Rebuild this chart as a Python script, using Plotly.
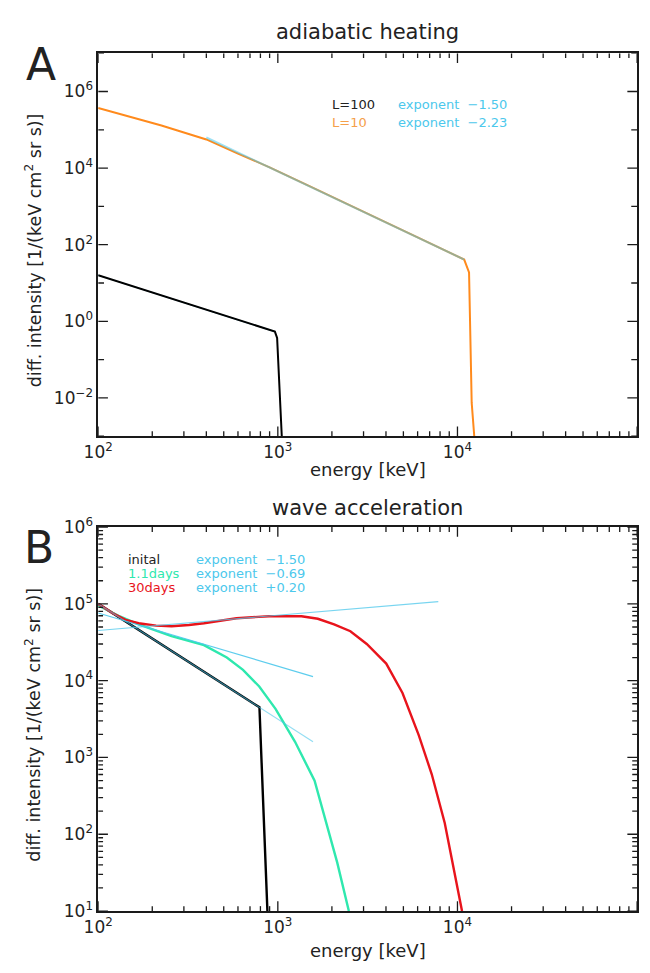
import plotly.graph_objects as go

# page body has a default 8px margin: the figure is sized to the visible area
OFF = 8
W, H = 650 - 2 * OFF, 973 - 2 * OFF

# ---------------- panel A : adiabatic heating ----------------
a_L100_E = [100, 963, 991, 1035, 1052]
a_L100_I = [16, 0.54, 0.37, 0.0074, 0.001]

a_L10_E = [100, 150, 225, 300, 400, 600, 900, 1500, 2500, 4000, 6000, 10900, 11600, 12000, 12400]
a_L10_I = [3.7e5, 2.2e5, 1.3e5, 8.5e4, 5.6e4, 2.4e4, 1.05e4, 3.4e3, 1.08e3, 3.7e2, 1.55e2, 41, 19, 0.0074, 0.001]

a_fit100_E = [100, 963]
a_fit100_I = [16, 0.54]
a_fit10_E = [400, 10900]
a_fit10_I = [6.3e4, 41]

a_labels = ["L=100", "L=10"]
a_exps = ["exponent  \u22121.50", "exponent  \u22122.23"]

# ---------------- panel B : wave acceleration ----------------
b_init_E = [100, 790, 875]
b_init_I = [1.0e5, 4.5e3, 10]

b_d11_E = [100, 130, 168, 256, 388, 520, 640, 788, 971, 1247, 1602, 1854, 2140, 2485]
b_d11_I = [9.5e4, 7.0e4, 5.4e4, 3.8e4, 2.9e4, 2.0e4, 1.38e4, 8.4e3, 4.3e3, 1.6e3, 497, 140, 43, 10]

b_d30_E = [100, 120, 142, 168, 210, 256, 320, 388, 589, 893, 1355, 1670, 2057, 2535, 3125,
           4012, 4943, 6086, 7192, 8494, 10600]
b_d30_I = [1.0e5, 7.6e4, 6.2e4, 5.6e4, 5.2e4, 5.1e4, 5.3e4, 5.6e4, 6.5e4, 6.9e4, 6.9e4, 6.4e4,
           5.4e4, 4.4e4, 3.0e4, 1.67e4, 6.9e3, 1.95e3, 604, 140, 10]

b_fitinit_E = [100, 1570]
b_fitinit_I = [1.0e5, 1.6e3]
b_fit11_E = [100, 1570]
b_fit11_I = [7.6e4, 1.13e4]
b_fit30_E = [100, 7820]
b_fit30_I = [4.5e4, 1.07e5]

b_labels = ["inital", "1.1days", "30days"]
b_exps = ["exponent  \u22121.50", "exponent  \u22120.69", "exponent  +0.20"]

# ---------------- axes / tick definitions (decades) ----------------
x_range = [2, 5]
a_y_range = [-3, 7]
b_y_range = [1, 6]
x_major = [2, 3, 4, 5]
a_y_major = [-2, 0, 2, 4, 6]
a_y_minor = [-3, -1, 1, 3, 5, 7]
b_y_major = [1, 2, 3, 4, 5, 6]
mantissas = [2, 3, 4, 5, 6, 7, 8, 9]

def pow_text(e):
    s = str(e).replace("-", "\u2212")
    return "10<sup>" + s + "</sup>"

def minor_vals(decades):
    return [m * 10 ** d for d in decades for m in mantissas]

# ---------------- styles ----------------
BLACK = "#000000"
ORANGE = "#FF8A1C"
CYAN = "#4CC8EC"
GREEN = "#2FE8AE"
RED = "#E8141C"
FONT = "DejaVu Sans"
AX = "#1a1a1a"

fig = go.Figure()

def line(x, y, color, width, xa, ya, opacity=1.0):
    fig.add_trace(go.Scatter(x=x, y=y, mode="lines", line=dict(color=color, width=width),
                             opacity=opacity, xaxis=xa, yaxis=ya, showlegend=False,
                             hoverinfo="skip", cliponaxis=False))

# panel A
line(a_fit100_E, a_fit100_I, CYAN, 1.2, "x", "y")
line(a_L100_E, a_L100_I, BLACK, 2, "x", "y")
line(a_L10_E, a_L10_I, ORANGE, 2, "x", "y")
line(a_fit10_E, a_fit10_I, CYAN, 2, "x", "y", 0.55)

# panel B
line(b_init_E, b_init_I, BLACK, 2.4, "x2", "y2")
line(b_d11_E, b_d11_I, GREEN, 2.4, "x2", "y2")
line(b_d30_E, b_d30_I, RED, 2.4, "x2", "y2")
line(b_fitinit_E, b_fitinit_I, CYAN, 1.2, "x2", "y2", 0.6)
line(b_fit11_E, b_fit11_I, CYAN, 1.2, "x2", "y2", 0.9)
line(b_fit30_E, b_fit30_I, CYAN, 1.2, "x2", "y2", 0.75)

# geometry (screen pixels of the reference)
L, R = 85, 637
A_T, A_B = 42, 434
B_T, B_B = 527, 920
PW = R - L

def fx(px):
    return (px - OFF) / W

def fy(py):
    return 1 - (py - OFF) / H

xd = [fx(L), fx(R)]

def axis(rng, major_dec, domain, anchor):
    return dict(type="log", range=rng, showgrid=False, zeroline=False, showline=True,
                linecolor=AX, linewidth=1.5, mirror=True, ticks="",
                tickmode="array",
                tickvals=[10 ** e for e in major_dec],
                ticktext=[pow_text(e) for e in major_dec],
                tickfont=dict(family=FONT, size=17, color="#222"),
                domain=domain, anchor=anchor)

fig.update_layout(
    width=W, height=H, margin=dict(l=0, r=0, t=0, b=0),
    paper_bgcolor="white", plot_bgcolor="white",
    xaxis=axis(x_range, x_major, xd, "y"),
    yaxis=axis(a_y_range, a_y_major, [fy(A_B), fy(A_T)], "x"),
    xaxis2=axis(x_range, x_major, xd, "y2"),
    yaxis2=axis(b_y_range, b_y_major, [fy(B_B), fy(B_T)], "x2"),
)

# inward tick marks on all four sides (tick length given in pixels, converted with the axis scale)
MAJ, MIN = 10, 5

def side_trace(xa, ya, xs, ys):
    fig.add_trace(go.Scatter(x=xs, y=ys, mode="lines", line=dict(color=AX, width=1.3),
                             connectgaps=False, xaxis=xa, yaxis=ya, showlegend=False,
                             hoverinfo="skip", cliponaxis=False))

def tick_traces(xa, ya, yrng, ph, ymaj, ymin, ymin_len):
    dx = (x_range[1] - x_range[0]) / PW      # decades per pixel along x
    dy = (yrng[1] - yrng[0]) / ph            # decades per pixel along y
    xt = [(10 ** e, MAJ) for e in x_major] + [(v, MIN) for v in minor_vals([2, 3, 4])]
    yt = [(10 ** e, MAJ) for e in ymaj] + [(v, ymin_len) for v in ymin]
    for edge, sgn in [(yrng[1], -1), (yrng[0], 1)]:          # top, then bottom
        xs, ys = [], []
        for v, n in xt:
            xs += [v, v, None]
            ys += [10 ** edge, 10 ** (edge + sgn * n * dy), None]
        side_trace(xa, ya, xs, ys)
    for edge, sgn in [(x_range[1], -1), (x_range[0], 1)]:    # right, then left
        xs, ys = [], []
        for v, n in yt:
            xs += [10 ** edge, 10 ** (edge + sgn * n * dx), None]
            ys += [v, v, None]
        side_trace(xa, ya, xs, ys)

tick_traces("x", "y", a_y_range, A_B - A_T, a_y_major, [10 ** e for e in a_y_minor], MIN + 1)
tick_traces("x2", "y2", b_y_range, B_B - B_T, b_y_major, minor_vals([1, 2, 3, 4, 5]), MIN)

def ann(text, px, py, size, color="#222", xanchor="center", angle=0):
    fig.add_annotation(text=text, x=fx(px), y=fy(py), xref="paper", yref="paper",
                       showarrow=False, xanchor=xanchor, yanchor="middle", textangle=angle,
                       font=dict(family=FONT, size=size, color=color))

cx = (L + R) / 2
ann("adiabatic heating", cx, 20, 21)
ann("energy [keV]", cx, 468, 18)
ann("wave acceleration", cx, 507, 21)
ann("energy [keV]", cx, 960, 18)
ann("A", 26, 54, 44)
ann("B", 24, 548, 44)
ytitle = "diff. intensity [1/(keV cm<sup>2</sup> sr s)]"
ann(ytitle, 18, (A_T + A_B) / 2 + 6, 17.5, angle=-90)
ann(ytitle, 18, (B_T + B_B) / 2 + 6, 17.5, angle=-90)

# panel A legend
a_colors = ["#222222", "#F5A04A"]
for i, (lab, ex) in enumerate(zip(a_labels, a_exps)):
    yy = 94 + 19 * i
    ann(lab, 322, yy, 13, a_colors[i], "left")
    ann(ex, 390, yy, 13, CYAN, "left")

# panel B legend
b_colors = ["#222222", GREEN, RED]
for i, (lab, ex) in enumerate(zip(b_labels, b_exps)):
    yy = 560 + 14.5 * i
    ann(lab, 114, yy, 13, b_colors[i], "left")
    ann(ex, 183, yy, 13, CYAN, "left")

fig.write_html("out.html")
